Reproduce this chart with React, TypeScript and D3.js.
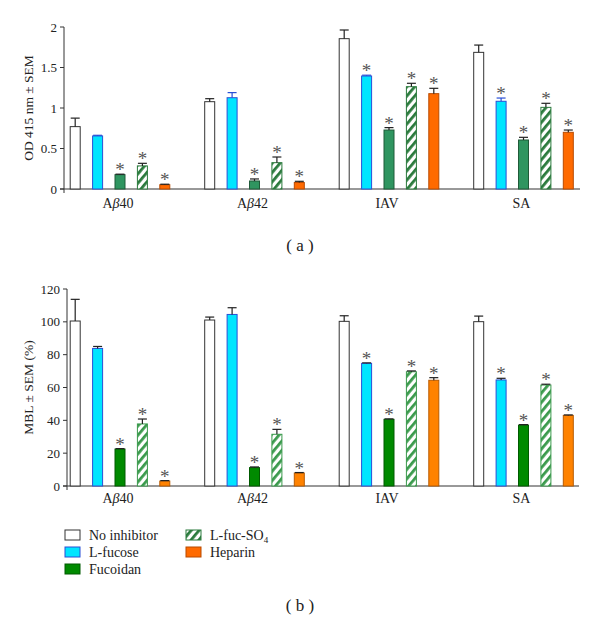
import React from 'react';
import * as d3 from 'd3';

const groups = ['Ab40', 'Ab42', 'IAV', 'SA'];
const series = ['No inhibitor', 'L-fucose', 'Fucoidan', 'L-fuc-SO4', 'Heparin'];

// panel (a): OD 415 nm
const odMean = [
  [0.77, 0.655, 0.177, 0.285, 0.053],
  [1.078, 1.127, 0.099, 0.325, 0.08],
  [1.856, 1.395, 0.728, 1.263, 1.177],
  [1.687, 1.083, 0.605, 1.008, 0.7],
];
const odErr = [
  [0.105, 0.008, 0.006, 0.032, 0.006],
  [0.037, 0.063, 0.025, 0.07, 0.015],
  [0.107, 0.01, 0.03, 0.042, 0.066],
  [0.09, 0.04, 0.033, 0.05, 0.028],
];
const odStar = [
  [false, false, true, true, true],
  [false, false, true, true, true],
  [false, true, true, true, true],
  [false, true, true, true, true],
];

// panel (b): MBL %
const mblMean = [
  [100.5, 83.8, 22.5, 37.8, 3.0],
  [101.1, 104.5, 11.2, 31.5, 7.9],
  [100.3, 74.7, 40.6, 69.6, 64.4],
  [100.1, 64.6, 37.1, 61.5, 43],
];
const mblErr = [
  [13.2, 1.2, 0.3, 3.0, 0.3],
  [1.8, 4.1, 0.4, 3.0, 0.3],
  [3.4, 0.3, 0.3, 0.5, 1.6],
  [3.4, 1.0, 0.3, 0.5, 0.3],
];
const mblStar = odStar;

const odTicks = [0, 0.5, 1, 1.5, 2];
const mblTicks = [0, 20, 40, 60, 80, 100, 120];

const serif = '"Liberation Serif", "DejaVu Serif", serif';
const ink = '#333';

type Look = { fill: string; stroke: string; err: string };
const looksA: Look[] = [
  { fill: '#ffffff', stroke: '#333', err: '#222' },
  { fill: '#00e5ff', stroke: '#2a4fd6', err: '#2a4fd6' },
  { fill: '#2f9560', stroke: '#1f5a38', err: '#222' },
  { fill: 'url(#hatchA)', stroke: '#2a7a3c', err: '#222' },
  { fill: '#ff6a00', stroke: '#b84a00', err: '#222' },
];
const looksB: Look[] = [
  { fill: '#ffffff', stroke: '#333', err: '#222' },
  { fill: '#00e5ff', stroke: '#2a4fd6', err: '#222' },
  { fill: '#008a00', stroke: '#005a00', err: '#222' },
  { fill: 'url(#hatchB)', stroke: '#3a9a4c', err: '#222' },
  { fill: '#ff8200', stroke: '#b85a00', err: '#222' },
];

const x0 = d3.scaleBand<string>().domain(groups).range([52.75, 590.75]);
const x1 = d3.scalePoint<string>().domain(series).range([-44.8, 44.8]);
const barW = 10;

function GroupLabel({ g, x, y }: { g: string; x: number; y: number }) {
  const isAb = g.startsWith('Ab');
  return (
    <text x={x} y={y} textAnchor="middle" fontFamily={serif} fontSize={14} fill="#222">
      {isAb ? (
        <>
          A<tspan fontStyle="italic">β</tspan>
          {g.slice(2)}
        </>
      ) : (
        g
      )}
    </text>
  );
}

function Panel({
  mean, err, star, ticks, yMax, y0, y1, axisX, xEnd, yLabel, looks, labelY,
}: {
  mean: number[][]; err: number[][]; star: boolean[][]; ticks: number[]; yMax: number;
  y0: number; y1: number; axisX: number; xEnd: number; yLabel: string; looks: Look[];
  labelY: number;
}) {
  const y = d3.scaleLinear().domain([0, yMax]).range([y0, y1]);
  return (
    <g>
      {/* y axis */}
      <line x1={axisX} x2={axisX} y1={y(0) + 4} y2={y(yMax)} stroke={ink} strokeWidth={1} />
      {ticks.map((t) => (
        <g key={t}>
          <line x1={axisX - 4} x2={axisX} y1={y(t)} y2={y(t)} stroke={ink} />
          <text x={axisX - 7} y={y(t)} dy="0.35em" textAnchor="end" fontFamily={serif} fontSize={13} fill="#222">
            {String(t)}
          </text>
        </g>
      ))}
      <line x1={axisX - 4} x2={xEnd} y1={y(0)} y2={y(0)} stroke={ink} />
      <text
        transform={`translate(28,${(y(0) + y(yMax)) / 2}) rotate(-90)`}
        textAnchor="middle"
        dy="0.35em"
        fontFamily={serif}
        fontSize={13.5}
        fill="#222"
      >
        {yLabel}
      </text>
      {groups.map((g, gi) => {
        const cx = x0(g)! + x0.bandwidth() / 2;
        return (
          <g key={g}>
            {series.map((s, si) => {
              const bx = cx + x1(s)! - barW / 2;
              const v = mean[gi][si];
              const e = err[gi][si];
              const lk = looks[si];
              const top = y(v);
              const et = y(v + e);
              return (
                <g key={s}>
                  <rect x={bx} y={top} width={barW} height={y(0) - top} fill={lk.fill} stroke={lk.stroke} strokeWidth={1} />
                  <line x1={bx + barW / 2} x2={bx + barW / 2} y1={top} y2={et} stroke={lk.err} strokeWidth={1.2} />
                  <line x1={bx + 0.5} x2={bx + barW - 0.5} y1={et} y2={et} stroke={lk.err} strokeWidth={1.2} />
                  {star[gi][si] && (
                    <text x={bx + barW / 2} y={et + 2} textAnchor="middle" fontFamily={serif} fontSize={19} fill="#555">
                      *
                    </text>
                  )}
                </g>
              );
            })}
            <GroupLabel g={g} x={cx - 2} y={labelY} />
          </g>
        );
      })}
    </g>
  );
}

function Legend() {
  const rows: { name: string; fill: string; stroke: string; col: number; row: number }[] = [
    { name: 'No inhibitor', fill: '#ffffff', stroke: '#333', col: 0, row: 0 },
    { name: 'L-fucose', fill: '#00e5ff', stroke: '#2a4fd6', col: 0, row: 1 },
    { name: 'Fucoidan', fill: '#008a00', stroke: '#005a00', col: 0, row: 2 },
    { name: 'L-fuc-SO4', fill: 'url(#hatchL)', stroke: '#2a7a3c', col: 1, row: 0 },
    { name: 'Heparin', fill: '#ff6a00', stroke: '#b84a00', col: 1, row: 1 },
  ];
  const colX = [65, 186];
  const rowY = [535, 552, 569];
  return (
    <g>
      {rows.map((r) => (
        <g key={r.name}>
          <rect x={colX[r.col]} y={rowY[r.row] - 5} width={15} height={10} fill={r.fill} stroke={r.stroke} />
          <text x={colX[r.col] + 24} y={rowY[r.row]} dy="0.35em" fontFamily={serif} fontSize={14} fill="#222">
            {r.name === 'L-fuc-SO4' ? (
              <>
                L-fuc-SO<tspan fontSize={9} dy={3}>4</tspan>
              </>
            ) : (
              r.name
            )}
          </text>
        </g>
      ))}
    </g>
  );
}

function Hatch({ id, color }: { id: string; color: string }) {
  return (
    <pattern id={id} patternUnits="userSpaceOnUse" width={6} height={6} patternTransform="rotate(40)">
      <rect width={6} height={6} fill="#fff" />
      <rect width={2.8} height={6} fill={color} />
    </pattern>
  );
}

export default function App() {
  return (
    <svg
      width={600}
      height={626}
      viewBox="0 0 600 626"
      style={{ position: 'absolute', left: 0, top: 0, background: '#fff' }}
    >
      <defs>
        <Hatch id="hatchA" color="#2a7a3c" />
        <Hatch id="hatchB" color="#3a9a4c" />
        <Hatch id="hatchL" color="#2a7a3c" />
      </defs>
      <rect width={600} height={626} fill="#fff" />
      <Panel
        mean={odMean}
        err={odErr}
        star={odStar}
        ticks={odTicks}
        yMax={2}
        y0={189}
        y1={27}
        axisX={64}
        xEnd={580}
        yLabel="OD 415 nm ± SEM"
        looks={looksA}
        labelY={208}
      />
      <text x={300} y={245} dy="0.35em" textAnchor="middle" fontFamily={serif} fontSize={17} fill="#222">
        ( a )
      </text>
      <Panel
        mean={mblMean}
        err={mblErr}
        star={mblStar}
        ticks={mblTicks}
        yMax={120}
        y0={486}
        y1={289}
        axisX={67}
        xEnd={579}
        yLabel="MBL ± SEM (%)"
        looks={looksB}
        labelY={503}
      />
      <Legend />
      <text x={300} y={605} dy="0.35em" textAnchor="middle" fontFamily={serif} fontSize={17} fill="#222">
        ( b )
      </text>
    </svg>
  );
}
